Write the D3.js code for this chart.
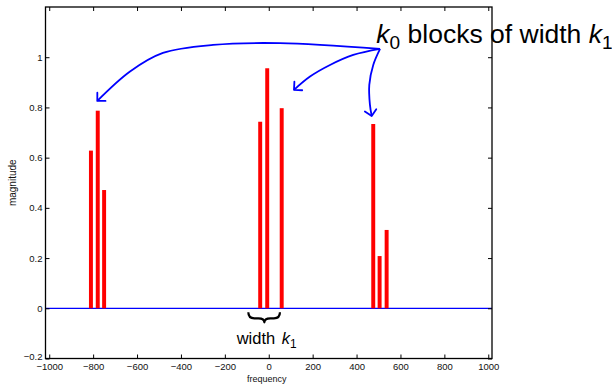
<!DOCTYPE html>
<html>
<head>
<meta charset="utf-8">
<script src="https://cdn.jsdelivr.net/npm/d3@7"></script>
<style>
  html, body { margin: 0; padding: 0; background: #fff; }
  svg { display: block; font-family: "Liberation Sans", Arial, Helvetica, sans-serif; }
</style>
</head>
<body>
<svg id="chart" width="612" height="384"></svg>
<script>
// ---- data ----
const frequencies = [-810, -779, -750, -39, -7, 59, 476, 505, 537];
const magnitudes  = [0.628, 0.787, 0.471, 0.743, 0.956, 0.797, 0.734, 0.208, 0.312];
const xTickValues = [-1000, -800, -600, -400, -200, 0, 200, 400, 600, 800, 1000];
const xTickLabels = ["\u22121000", "\u2212800", "\u2212600", "\u2212400", "\u2212200", "0", "200", "400", "600", "800", "1000"];
const yTickValues = [-0.2, 0, 0.2, 0.4, 0.6, 0.8, 1];
const yTickLabels = ["\u22120.2", "0", "0.2", "0.4", "0.6", "0.8", "1"];
const xLabel = "frequency";
const yLabel = "magnitude";
// annotation anchor points (data coordinates)
const arrowWide   = [[507, 1.033], [51, 1.056], [-254, 1.049], [-482, 1.017], [-632, 0.943], [-781, 0.826]];
const arrowMiddle = [[507, 1.033], [385, 1.009], [279, 0.969], [188, 0.923], [115, 0.870]];
const arrowRight  = [[507, 1.033], [476, 0.969], [458, 0.890], [461, 0.810], [469, 0.766]];
const braceSpan   = [-93, 51];   // frequency range of brace
const braceCusp   = -20;
const braceLevels = [-0.016, -0.056];
const topTextPos  = [490, 1.056];
const bottomTextPos = [-146, -0.142];

// ---- layout ----
const svg = d3.select("#chart");
const plotL = 45.5, plotR = 492, plotT = 7, plotB = 358.5;
const x = d3.scaleLinear().domain([-1017, 1017]).range([plotL, plotR]);
const y = d3.scaleLinear().domain([-0.2, 1.2]).range([plotB, plotT]);

// zero line
svg.append("line")
  .attr("x1", plotL).attr("x2", plotR)
  .attr("y1", y(0)).attr("y2", y(0))
  .attr("stroke", "#0000ff").attr("stroke-width", 1.2);

// bars
const halfW = 9;
svg.append("g").selectAll("rect")
  .data(frequencies.map((f, i) => ({ f, m: magnitudes[i] })))
  .join("rect")
  .attr("x", d => x(d.f - halfW))
  .attr("width", d => x(d.f + halfW) - x(d.f - halfW))
  .attr("y", d => y(d.m))
  .attr("height", d => y(0) - y(d.m))
  .attr("fill", "#ff0000");

// axes
const tickFont = g => g.selectAll("text")
  .attr("font-size", 9.5).attr("fill", "#111")
  .attr("font-family", "'Liberation Sans', Arial, sans-serif");

const xAxis = d3.axisBottom(x).tickValues(xTickValues)
  .tickFormat((d, i) => xTickLabels[i]).tickSizeInner(-4).tickSizeOuter(0).tickPadding(5);
svg.append("g").attr("transform", `translate(0,${plotB})`).call(xAxis)
  .call(g => g.select(".domain").remove()).call(tickFont);

const yAxis = d3.axisLeft(y).tickValues(yTickValues)
  .tickFormat((d, i) => yTickLabels[i]).tickSizeInner(-4).tickSizeOuter(0).tickPadding(3);
svg.append("g").attr("transform", `translate(${plotL},0)`).call(yAxis)
  .call(g => g.select(".domain").remove()).call(tickFont)
  .call(g => g.selectAll("text").filter((d) => d === -0.2).attr("dy", "0.1em"));

svg.append("g").attr("transform", `translate(0,${plotT})`)
  .call(d3.axisTop(x).tickValues(xTickValues).tickFormat("").tickSizeInner(-4).tickSizeOuter(0))
  .call(g => g.select(".domain").remove());
svg.append("g").attr("transform", `translate(${plotR},0)`)
  .call(d3.axisRight(y).tickValues(yTickValues).tickFormat("").tickSizeInner(-4).tickSizeOuter(0))
  .call(g => g.select(".domain").remove());

// frame
svg.append("rect")
  .attr("x", plotL).attr("y", plotT)
  .attr("width", plotR - plotL).attr("height", plotB - plotT)
  .attr("fill", "none").attr("stroke", "#000").attr("stroke-width", 1.3);

// axis labels
svg.append("text")
  .attr("transform", `translate(15.5,${(plotT + plotB) / 2}) rotate(-90)`)
  .attr("text-anchor", "middle").attr("font-size", 10).attr("fill", "#111")
  .text(yLabel);
svg.append("text")
  .attr("x", (plotL + plotR) / 2 - 2).attr("y", 381.5)
  .attr("text-anchor", "middle").attr("font-size", 9).attr("fill", "#111")
  .text(xLabel);

// arrows
const defs = svg.append("defs");
defs.append("marker")
  .attr("id", "vhead").attr("markerUnits", "userSpaceOnUse")
  .attr("viewBox", "-10 -10 20 20").attr("markerWidth", 20).attr("markerHeight", 20)
  .attr("refX", 0).attr("refY", 0).attr("orient", "auto")
  .append("path")
  .attr("d", "M-5.8,-5.8 L0,0 L-5.8,5.8")
  .attr("fill", "none").attr("stroke", "#0000ff").attr("stroke-width", 1.8)
  .attr("stroke-linecap", "round").attr("stroke-linejoin", "round");

const arrowLine = d3.line().x(d => x(d[0])).y(d => y(d[1])).curve(d3.curveCatmullRom.alpha(0.5));
[arrowWide, arrowMiddle, arrowRight].forEach(pts => {
  svg.append("path")
    .attr("d", arrowLine(pts))
    .attr("fill", "none").attr("stroke", "#0000ff").attr("stroke-width", 1.8)
    .attr("marker-end", "url(#vhead)");
});

// brace
{
  const x1 = x(braceSpan[0]), x2 = x(braceSpan[1]), xm = x(braceCusp);
  const yt = y(braceLevels[0]), yb = y(braceLevels[1]);
  const ym = yt + (yb - yt) * 0.6, r = 6;
  svg.append("path")
    .attr("d", `M${x1},${yt} Q${x1},${ym} ${x1 + r},${ym} L${xm - r},${ym} Q${xm},${ym} ${xm},${yb} ` +
               `Q${xm},${ym} ${xm + r},${ym} L${x2 - r},${ym} Q${x2},${ym} ${x2},${yt}`)
    .attr("fill", "none").attr("stroke", "#000").attr("stroke-width", 2.2)
    .attr("stroke-linejoin", "round");
}

// annotation texts
function mathLabel(pos, size, parts) {
  const t = svg.append("text")
    .attr("x", x(pos[0])).attr("y", y(pos[1]))
    .attr("font-size", size).attr("fill", "#000");
  let shift = 0;
  parts.forEach(p => {
    const ts = t.append("tspan").text(p.s);
    if (p.italic) ts.attr("font-style", "italic");
    const target = p.sub ? size * 0.22 : 0;
    if (target !== shift) { ts.attr("dy", target - shift); shift = target; }
    if (p.sub) ts.attr("font-size", size * 0.72);
    if (p.dx) ts.attr("dx", p.dx);
  });
}
mathLabel(topTextPos, 26.5, [
  { s: "k", italic: true }, { s: "0", sub: true }, { s: " blocks of width " },
  { s: "k", italic: true }, { s: "1", sub: true }
]);
mathLabel(bottomTextPos, 16.5, [
  { s: "width " }, { s: "k", italic: true, dx: 2 }, { s: "1", sub: true }
]);
</script>
</body>
</html>
